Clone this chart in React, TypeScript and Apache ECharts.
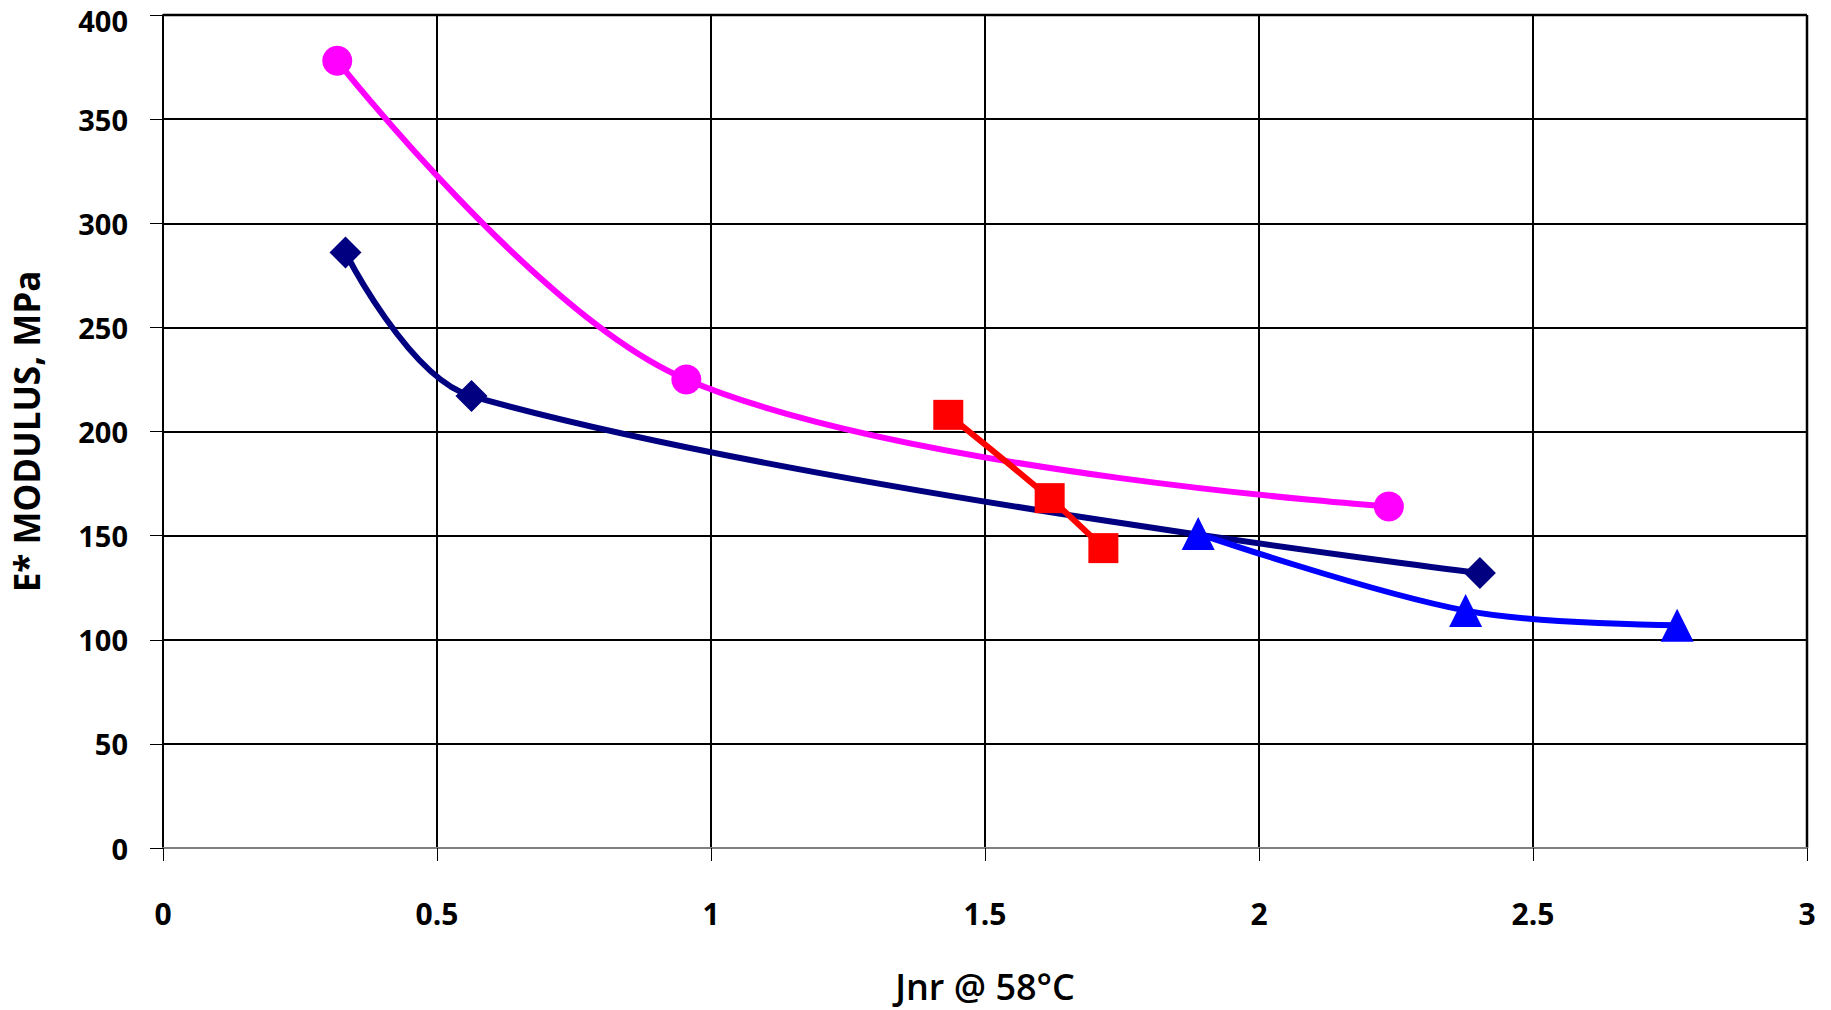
import React, { useEffect, useRef } from "react";
import * as echarts from "echarts";

const magentaX = [0.318, 0.955, 2.237];
const magentaY = [378, 225, 164];
const navyX = [0.333, 0.563, 2.403];
const navyY = [286, 217, 132];
const redX = [1.433, 1.618, 1.716];
const redY = [208, 168, 144];
const blueX = [1.889, 2.377, 2.763];
const blueY = [151, 114, 107];

const xTitle = "Jnr @ 58°C";
const yTitle = "E* MODULUS, MPa";

const pairs = (xs: number[], ys: number[]) => xs.map((x, i) => [x, ys[i]]);

export default function App() {
  const ref = useRef<HTMLDivElement>(null);
  useEffect(() => {
    const chart = echarts.init(ref.current!, null, { renderer: "svg" });
    const font = "'Open Sans', 'DejaVu Sans', sans-serif";
    const mk = (name: string, xs: number[], ys: number[], color: string, symbol: string, size: number) => ({
      name,
      type: "line",
      data: pairs(xs, ys),
      smooth: 0.35,
      symbol,
      symbolSize: size,
      showSymbol: true,
      lineStyle: { color, width: 6 },
      itemStyle: { color, borderWidth: 0 },
    });
    chart.setOption({
      animation: false,
      backgroundColor: "#ffffff",
      grid: { left: 163, top: 15, right: 24, bottom: 162, containLabel: false, outerBoundsMode: "none" },
      xAxis: {
        type: "value",
        min: 0,
        max: 3,
        interval: 0.5,
        name: xTitle,
        nameLocation: "middle",
        nameGap: 120,
        nameTextStyle: { fontFamily: font, fontSize: 36, fontWeight: 600, color: "#000" },
        axisLine: { show: true, lineStyle: { color: "#808080", width: 2 } },
        axisTick: { show: true, length: 13, lineStyle: { color: "#000", width: 1 } },
        axisLabel: { margin: 50, fontFamily: font, fontSize: 30, fontWeight: "bold", color: "#000" },
        splitLine: { show: true, lineStyle: { color: "#000", width: 2 } },
      },
      yAxis: {
        type: "value",
        min: 0,
        max: 400,
        interval: 50,
        name: yTitle,
        nameLocation: "middle",
        nameGap: 119,
        nameRotate: 90,
        nameTextStyle: { fontFamily: font, fontSize: 35, fontWeight: "bold", color: "#000" },
        axisLine: { show: true, lineStyle: { color: "#000", width: 2 } },
        axisTick: { show: true, length: 13, lineStyle: { color: "#000", width: 1 } },
        axisLabel: {
          margin: 35,
          fontFamily: font,
          fontSize: 29,
          lineHeight: 28,
          fontWeight: "bold",
          color: "#000",
          formatter: (v: number) => (v === 400 ? `{t|${v}}` : `${v}`),
          rich: {
            t: { fontFamily: font, fontSize: 29, fontWeight: "bold", color: "#000", lineHeight: 20, padding: [10, 0, 0, 0] },
          },
        },
        splitLine: { show: true, lineStyle: { color: "#000", width: 2 } },
      },
      graphic: [
        { type: "line", shape: { x1: 163, y1: 15, x2: 1807, y2: 15 }, style: { stroke: "#808080", lineWidth: 3 } },
        { type: "line", shape: { x1: 1807, y1: 15, x2: 1807, y2: 848 }, style: { stroke: "#808080", lineWidth: 3 } },
      ],
      series: [
        mk("magenta", magentaX, magentaY, "#FF00FF", "circle", 30),
        mk("navy", navyX, navyY, "#000080", "diamond", 32),
        mk("red", redX, redY, "#FF0000", "rect", 30),
        mk("blue", blueX, blueY, "#0000FF", "triangle", 33),
      ],
    });
    return () => chart.dispose();
  }, []);
  return <div ref={ref} style={{ position: "fixed", left: 0, top: 0, width: 1831, height: 1010 }} />;
}
